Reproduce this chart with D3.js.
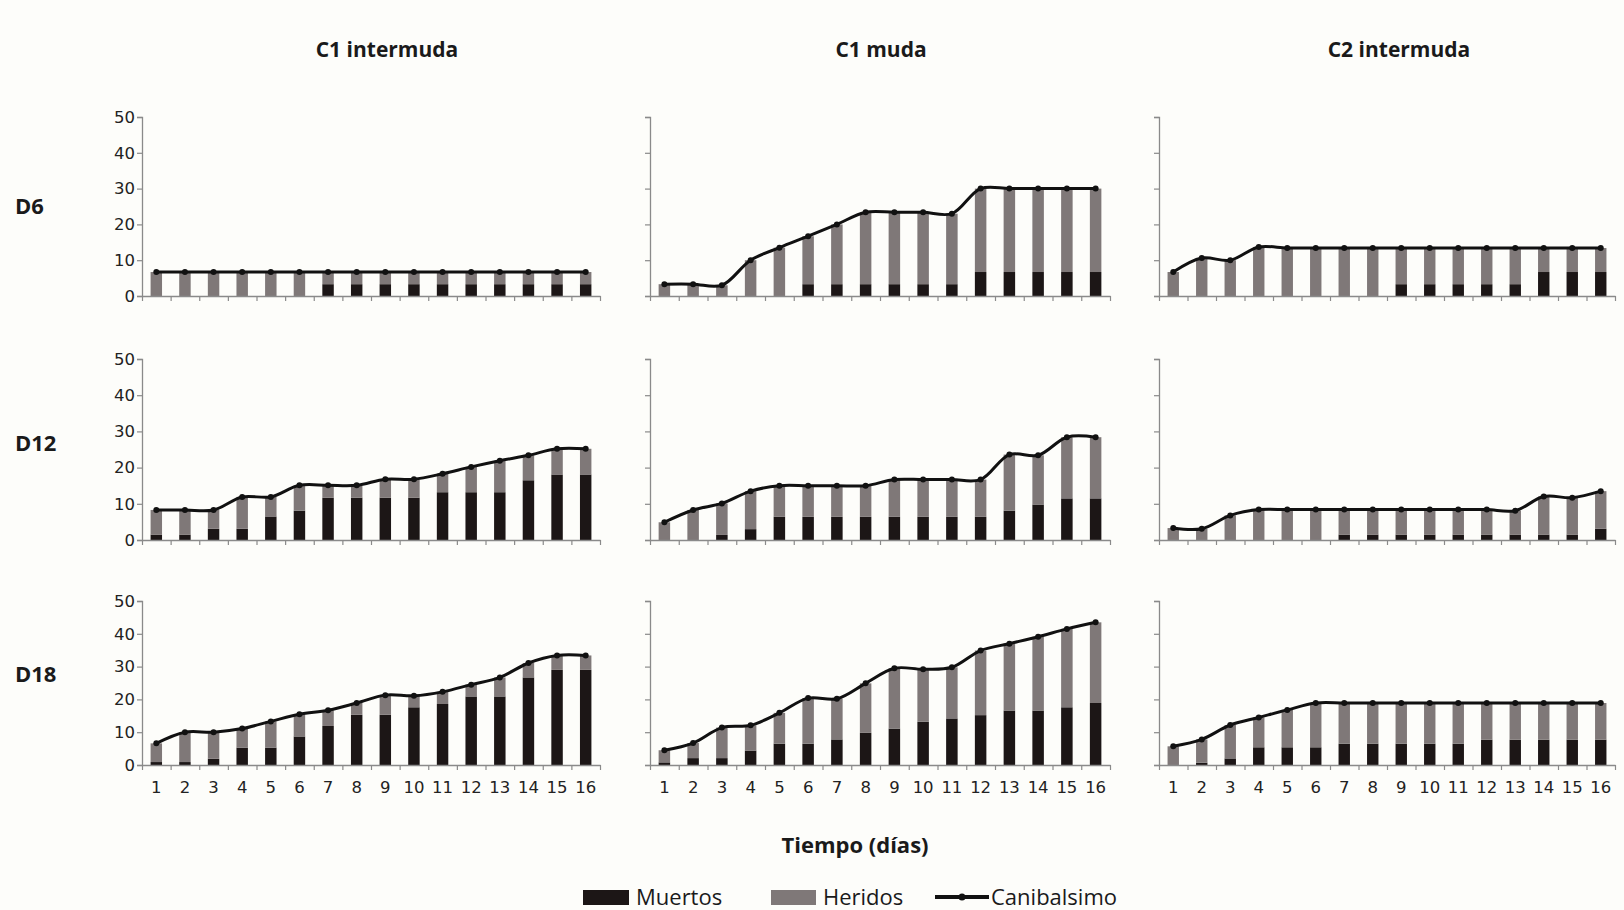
<!DOCTYPE html>
<html>
<head>
<meta charset="utf-8">
<script src="https://cdn.jsdelivr.net/npm/d3@7"></script>
<style>
  html, body { margin: 0; padding: 0; background: #fdfdfa; }
  svg { display: block; }
  text { fill: #1a1a1a; }
</style>
</head>
<body>
<svg id="chart" width="1624" height="910"></svg>
<script>
// Days of observation (x-axis categories)
const days = ["1","2","3","4","5","6","7","8","9","10","11","12","13","14","15","16"];
// Column (crab stage) and row (density) headings
const treatments = ["C1 intermuda", "C1 muda", "C2 intermuda"];
const densities = ["D6", "D12", "D18"];
const yTicks = [0, 10, 20, 30, 40, 50];
const legendLabels = ["Muertos", "Heridos", "Canibalsimo"];

// Percentages per day. Muertos = dead, Heridos = injured, Canibalismo = total cannibalism.
// D6
const muertosD6C1i   = [0,0,0,0,0,0,3.3,3.3,3.3,3.3,3.3,3.3,3.3,3.3,3.3,3.3];
const heridosD6C1i   = [6.7,6.7,6.7,6.7,6.7,6.7,3.4,3.4,3.4,3.4,3.4,3.4,3.4,3.4,3.4,3.4];
const canibD6C1i     = [6.7,6.7,6.7,6.7,6.7,6.7,6.7,6.7,6.7,6.7,6.7,6.7,6.7,6.7,6.7,6.7];

const muertosD6C1m   = [0,0,0,0,0,3.3,3.3,3.3,3.3,3.3,3.3,6.7,6.7,6.7,6.7,6.7];
const heridosD6C1m   = [3.3,3.3,3.0,10.0,13.5,13.4,16.7,20.1,20.1,20.1,19.7,23.3,23.3,23.3,23.3,23.3];
const canibD6C1m     = [3.3,3.3,3.0,10.0,13.5,16.7,20.0,23.4,23.4,23.4,23.0,30.0,30.0,30.0,30.0,30.0];

const muertosD6C2i   = [0,0,0,0,0,0,0,0,3.3,3.3,3.3,3.3,3.3,6.7,6.7,6.7];
const heridosD6C2i   = [6.7,10.6,10.0,13.7,13.4,13.4,13.4,13.4,10.1,10.1,10.1,10.1,10.1,6.7,6.7,6.7];
const canibD6C2i     = [6.7,10.6,10.0,13.7,13.4,13.4,13.4,13.4,13.4,13.4,13.4,13.4,13.4,13.4,13.4,13.4];

// D12
const muertosD12C1i  = [1.5,1.5,3.1,3.1,6.5,8.1,11.7,11.7,11.7,11.7,13.2,13.2,13.2,16.5,18.1,18.1];
const heridosD12C1i  = [6.8,6.8,5.2,8.8,5.4,7.0,3.4,3.4,5.1,5.1,5.1,7.0,8.7,6.9,7.1,7.1];
const canibD12C1i    = [8.3,8.3,8.3,11.9,11.9,15.1,15.1,15.1,16.8,16.8,18.3,20.2,21.9,23.4,25.2,25.2];

const muertosD12C1m  = [0,0,1.4,3.0,6.4,6.4,6.4,6.4,6.4,6.4,6.4,6.4,8.1,9.8,11.5,11.5];
const heridosD12C1m  = [4.9,8.3,8.7,10.5,8.6,8.6,8.6,8.6,10.3,10.3,10.3,10.3,15.5,13.6,16.9,16.9];
const canibD12C1m    = [4.9,8.3,10.1,13.5,15.0,15.0,15.0,15.0,16.7,16.7,16.7,16.7,23.6,23.4,28.4,28.4];

const muertosD12C2i  = [0,0,0,0,0,0,1.5,1.5,1.5,1.5,1.5,1.5,1.5,1.5,1.5,3.1];
const heridosD12C2i  = [3.3,3.1,6.8,8.4,8.4,8.4,6.9,6.9,6.9,6.9,6.9,6.9,6.6,10.5,10.2,10.4];
const canibD12C2i    = [3.3,3.1,6.8,8.4,8.4,8.4,8.4,8.4,8.4,8.4,8.4,8.4,8.1,12.0,11.7,13.5];

// D18
const muertosD18C1i  = [0.9,0.9,1.9,5.3,5.3,8.7,11.9,15.3,15.3,17.6,18.6,20.9,20.9,26.7,29.0,29.0];
const heridosD18C1i  = [5.7,9.1,8.1,5.8,8.0,6.8,4.8,3.6,6.0,3.5,3.7,3.6,5.8,4.4,4.4,4.4];
const canibD18C1i    = [6.6,10.0,10.0,11.1,13.3,15.5,16.7,18.9,21.3,21.1,22.3,24.5,26.7,31.1,33.4,33.4];

const muertosD18C1m  = [0.8,2.1,2.1,4.4,6.5,6.5,7.8,9.8,11.1,13.2,14.2,15.2,16.6,16.6,17.6,18.9];
const heridosD18C1m  = [3.7,4.6,9.3,7.7,9.4,13.9,12.4,15.1,18.4,16.0,15.6,19.7,20.4,22.5,23.9,24.6];
const canibD18C1m    = [4.5,6.7,11.4,12.1,15.9,20.4,20.2,24.9,29.5,29.2,29.8,34.9,37.0,39.1,41.5,43.5];

const muertosD18C2i  = [0,0.7,2.0,5.4,5.4,5.4,6.5,6.5,6.5,6.5,6.5,7.7,7.7,7.7,7.7,7.7];
const heridosD18C2i  = [5.7,7.1,10.2,9.1,11.4,13.5,12.4,12.4,12.4,12.4,12.4,11.2,11.2,11.2,11.2,11.2];
const canibD18C2i    = [5.7,7.8,12.2,14.5,16.8,18.9,18.9,18.9,18.9,18.9,18.9,18.9,18.9,18.9,18.9,18.9];

// Panels in reading order (row = density, col = stage)
const panels = [
  { row: 0, col: 0, muertos: muertosD6C1i,  heridos: heridosD6C1i,  canib: canibD6C1i },
  { row: 0, col: 1, muertos: muertosD6C1m,  heridos: heridosD6C1m,  canib: canibD6C1m },
  { row: 0, col: 2, muertos: muertosD6C2i,  heridos: heridosD6C2i,  canib: canibD6C2i },
  { row: 1, col: 0, muertos: muertosD12C1i, heridos: heridosD12C1i, canib: canibD12C1i },
  { row: 1, col: 1, muertos: muertosD12C1m, heridos: heridosD12C1m, canib: canibD12C1m },
  { row: 1, col: 2, muertos: muertosD12C2i, heridos: heridosD12C2i, canib: canibD12C2i },
  { row: 2, col: 0, muertos: muertosD18C1i, heridos: heridosD18C1i, canib: canibD18C1i },
  { row: 2, col: 1, muertos: muertosD18C1m, heridos: heridosD18C1m, canib: canibD18C1m },
  { row: 2, col: 2, muertos: muertosD18C2i, heridos: heridosD18C2i, canib: canibD18C2i }
];

// ---- layout & style ----
const colX = [[142, 600], [650, 1110], [1159, 1615]];
const rowY = [[117, 296], [359, 540], [601, 765]];
const colors = { muertos: "#1c1616", heridos: "#7f7878", line: "#111111", axis: "#8a8a8a" };
const textFont = "'Open Sans', 'Noto Sans', sans-serif";
const tickFont = "'DejaVu Sans', sans-serif";

const svg = d3.select("#chart");
svg.append("rect").attr("width", 1624).attr("height", 910).attr("fill", "#fdfdfa");

const stackGen = d3.stack().keys(["muertos", "heridos"]);

panels.forEach(p => {
  const [x0, x1] = colX[p.col];
  const [yTop, yBottom] = rowY[p.row];
  const g = svg.append("g");

  const x = d3.scaleBand().domain(days).range([x0, x1]).paddingInner(0.6).paddingOuter(0.3);
  const xEdges = d3.scaleLinear().domain([0, days.length]).range([x0, x1]);
  const y = d3.scaleLinear().domain([0, 50]).range([yBottom, yTop]);

  const table = days.map((d, i) => ({ day: d, muertos: p.muertos[i], heridos: p.heridos[i], canib: p.canib[i] }));
  const series = stackGen(table);

  // stacked bars
  g.selectAll("g.layer").data(series).join("g")
    .attr("fill", s => colors[s.key])
    .selectAll("rect").data(s => s).join("rect")
      .attr("x", d => x(d.data.day))
      .attr("width", x.bandwidth())
      .attr("y", d => y(d[1]))
      .attr("height", d => y(d[0]) - y(d[1]));

  // y axis
  const yAxis = d3.axisLeft(y).tickValues(yTicks).tickSize(5).tickPadding(2);
  if (p.col !== 0) yAxis.tickFormat("");
  const ya = g.append("g").attr("transform", `translate(${x0},0)`).call(yAxis);
  ya.select(".domain").attr("stroke", colors.axis).attr("stroke-width", 1.3);
  ya.selectAll(".tick line").attr("stroke", colors.axis).attr("stroke-width", 1.2);
  ya.selectAll(".tick text").style("font-family", tickFont).style("font-size", "16.5px").style("fill", "#222");

  // x axis: tick marks at category edges
  const xa = g.append("g").attr("transform", `translate(0,${yBottom})`)
    .call(d3.axisBottom(xEdges).tickValues(d3.range(days.length + 1)).tickSize(5).tickFormat("").tickSizeOuter(0));
  xa.select(".domain").attr("stroke", colors.axis).attr("stroke-width", 1.3);
  xa.selectAll(".tick line").attr("stroke", colors.axis).attr("stroke-width", 1.2);

  // day labels on the bottom row
  if (p.row === 2) {
    const xl = g.append("g").attr("transform", `translate(0,${yBottom})`)
      .call(d3.axisBottom(x).tickSize(0).tickPadding(16));
    xl.select(".domain").remove();
    xl.selectAll(".tick text").style("font-family", tickFont).style("font-size", "16.5px").style("fill", "#222");
  }

  // cannibalism line with markers
  const line = d3.line()
    .x(d => x(d.day) + x.bandwidth() / 2)
    .y(d => y(d.canib))
    .curve(d3.curveCatmullRom.alpha(0.5));
  g.append("path").datum(table)
    .attr("d", line).attr("fill", "none")
    .attr("stroke", colors.line).attr("stroke-width", 3).attr("stroke-linejoin", "round");
  g.selectAll("circle").data(table).join("circle")
    .attr("cx", d => x(d.day) + x.bandwidth() / 2)
    .attr("cy", d => y(d.canib))
    .attr("r", 3).attr("fill", colors.line);
});

function label(sel) {
  return sel.style("font-family", textFont).style("fill", "#1a1a1a");
}

// column headings
const titleX = [387, 881, 1399];
treatments.forEach((t, i) => {
  label(svg.append("text")).attr("x", titleX[i]).attr("y", 57)
    .attr("text-anchor", "middle").style("font-size", "21px").style("font-weight", 700).text(t);
});

// row headings
const rowLabelY = [206, 443, 674];
densities.forEach((t, i) => {
  label(svg.append("text")).attr("x", 15).attr("y", rowLabelY[i] + 8)
    .style("font-size", "22px").style("font-weight", 700).text(t);
});

// x axis title
label(svg.append("text")).attr("x", 855).attr("y", 853)
  .attr("text-anchor", "middle").style("font-size", "22px").style("font-weight", 700).text("Tiempo (días)");

// legend
const lg = svg.append("g");
lg.append("rect").attr("x", 583).attr("y", 890).attr("width", 46).attr("height", 15).attr("fill", colors.muertos);
label(lg.append("text")).attr("x", 636).attr("y", 905).style("font-size", "22px").text(legendLabels[0]);
lg.append("rect").attr("x", 771).attr("y", 890).attr("width", 45).attr("height", 15).attr("fill", colors.heridos);
label(lg.append("text")).attr("x", 823).attr("y", 905).style("font-size", "22px").text(legendLabels[1]);
lg.append("line").attr("x1", 935).attr("x2", 989).attr("y1", 897).attr("y2", 897)
  .attr("stroke", colors.line).attr("stroke-width", 4);
lg.append("circle").attr("cx", 962).attr("cy", 897).attr("r", 3.5).attr("fill", colors.line);
label(lg.append("text")).attr("x", 991).attr("y", 905).style("font-size", "22px").text(legendLabels[2]);
</script>
</body>
</html>
